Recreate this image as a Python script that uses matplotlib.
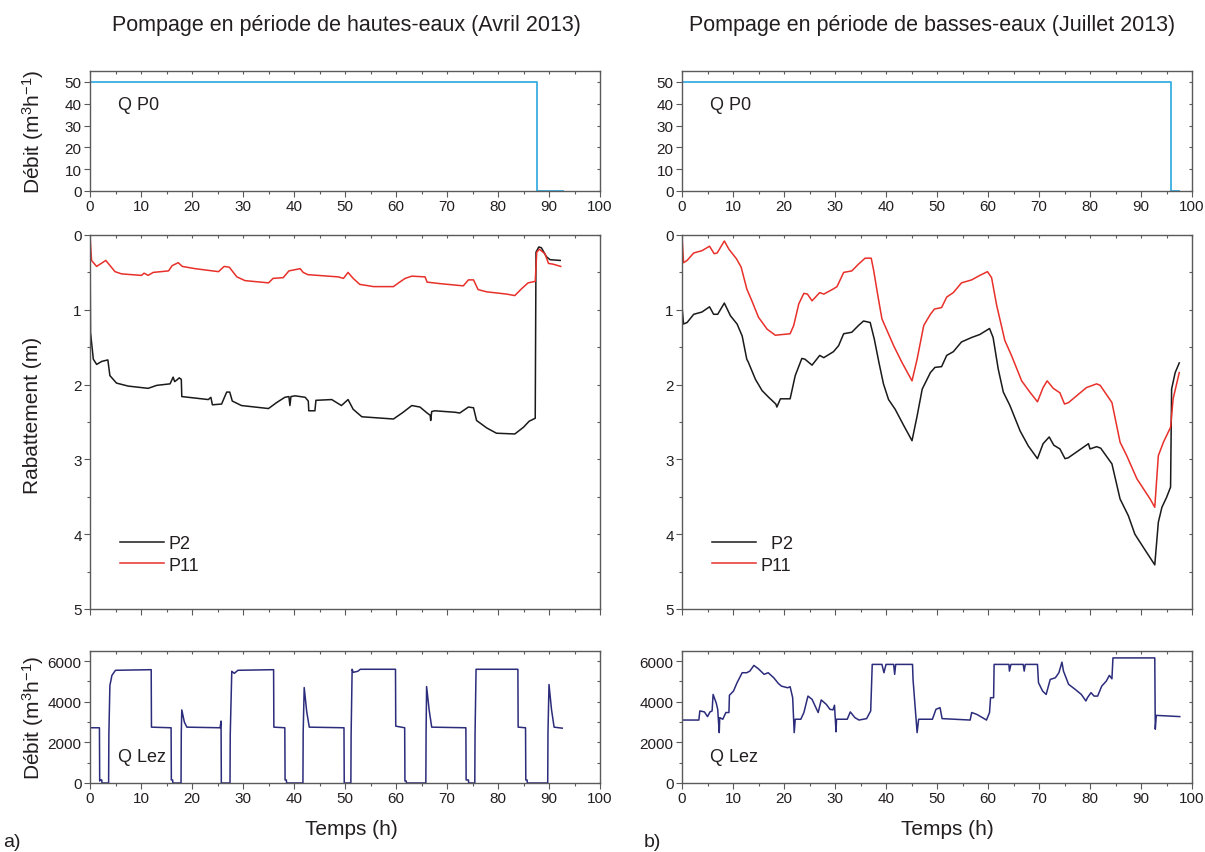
import matplotlib
matplotlib.use("Agg")
import matplotlib.pyplot as plt
from matplotlib.ticker import MultipleLocator
from matplotlib.lines import Line2D

plt.rcParams['font.family'] = ['Liberation Sans', 'DejaVu Sans']
plt.rcParams['mathtext.fontset'] = 'custom'
plt.rcParams['mathtext.rm'] = 'Liberation Sans'
plt.rcParams['mathtext.it'] = 'Liberation Sans'

# ---------------- data ----------------
TITLES = ["Pompage en période de hautes-eaux (Avril 2013)",
          "Pompage en période de basses-eaux (Juillet 2013)"]

P0_LEFT_T = [0, 87.7, 87.7, 92.7]
P0_LEFT_Q = [50, 50, 0, 0]
P0_RIGHT_T = [0, 95.9, 95.9, 97.4]
P0_RIGHT_Q = [50, 50, 0, 0]

P11_LEFT = [(0, 0), (0.3, 0.34), (1.3, 0.42), (3.1, 0.34), (4.9, 0.49), (6.2, 0.52),
            (10.1, 0.54), (10.6, 0.51), (11.4, 0.54), (12.4, 0.50), (15.4, 0.48),
            (16.1, 0.41), (17.3, 0.37), (18.1, 0.42), (20.6, 0.45), (25.2, 0.49),
            (26.3, 0.42), (27.3, 0.43), (28.8, 0.56), (30.4, 0.61), (35.0, 0.64),
            (35.9, 0.58), (37.9, 0.57), (39.0, 0.48), (41.2, 0.45), (41.8, 0.50),
            (42.7, 0.53), (48.7, 0.56), (49.7, 0.58), (50.6, 0.50), (51.6, 0.58),
            (52.9, 0.66), (55.6, 0.69), (59.5, 0.69), (60.5, 0.64), (61.8, 0.58),
            (63.1, 0.55), (65.7, 0.56), (66.1, 0.63), (68.6, 0.65), (73.2, 0.68),
            (74.2, 0.60), (75.2, 0.60), (76.1, 0.73), (77.8, 0.76), (81.7, 0.79),
            (83.3, 0.81), (84.6, 0.72), (85.9, 0.64), (87.3, 0.62), (87.6, 0.23),
            (88.1, 0.19), (89.2, 0.25), (89.9, 0.38), (90.8, 0.39), (92.3, 0.42)]

P2_LEFT = [(0, 0), (0.1, 1.30), (0.65, 1.66), (1.3, 1.73), (2.3, 1.69), (3.5, 1.67),
           (3.9, 1.88), (5.2, 1.98), (7.5, 2.02), (11.4, 2.05), (13.1, 2.01), (15.7, 1.99),
           (16.3, 1.90), (16.6, 1.96), (17.0, 1.94), (17.5, 1.91), (17.9, 1.93), (18.0, 2.16),
           (23.2, 2.20), (23.7, 2.17), (24.0, 2.27), (25.8, 2.26), (26.8, 2.10), (27.4, 2.10),
           (27.9, 2.22), (29.7, 2.28), (35.0, 2.32), (36.6, 2.24), (38.2, 2.17), (39.0, 2.16),
           (39.2, 2.28), (39.4, 2.16), (40.2, 2.15), (42.2, 2.17), (42.8, 2.22), (42.9, 2.35),
           (44.1, 2.35), (44.3, 2.21), (47.4, 2.20), (49.3, 2.28), (50.6, 2.20), (51.6, 2.33),
           (53.3, 2.43), (59.5, 2.46), (61.4, 2.37), (63.1, 2.28), (64.7, 2.30), (66.1, 2.38),
           (66.7, 2.41), (66.8, 2.48), (67.0, 2.36), (67.6, 2.35), (71.6, 2.37), (72.5, 2.38),
           (74.2, 2.30), (75.2, 2.31), (75.8, 2.48), (77.8, 2.58), (79.7, 2.65), (83.3, 2.66),
           (85.0, 2.57), (86.1, 2.49), (87.3, 2.45), (87.45, 0.23), (88.0, 0.16), (88.5, 0.17),
           (89.5, 0.29), (90.2, 0.33), (92.2, 0.34)]

P11_RIGHT = [(0, 0), (0.3, 0.37), (1.0, 0.34), (2.3, 0.24), (3.9, 0.21), (5.4, 0.15),
             (6.3, 0.25), (6.9, 0.24), (8.3, 0.08), (9.2, 0.19), (10.7, 0.32), (11.6, 0.43),
             (12.7, 0.72), (13.7, 0.88), (15.0, 1.10), (16.7, 1.26), (18.3, 1.34), (21.2, 1.32),
             (21.9, 1.21), (22.9, 0.92), (23.9, 0.78), (24.6, 0.79), (25.5, 0.88), (27.0, 0.77),
             (27.8, 0.79), (29.7, 0.72), (30.4, 0.69), (31.7, 0.50), (33.3, 0.48), (34.6, 0.39),
             (35.9, 0.31), (37.1, 0.31), (37.6, 0.48), (38.4, 0.81), (39.2, 1.12), (41.5, 1.48),
             (43.1, 1.70), (45.1, 1.95), (46.1, 1.66), (47.4, 1.21), (48.7, 1.06), (49.5, 0.99),
             (50.9, 0.97), (51.9, 0.83), (53.2, 0.77), (54.8, 0.64), (56.8, 0.60), (58.4, 0.54),
             (59.9, 0.49), (60.7, 0.57), (61.7, 0.94), (63.3, 1.41), (64.6, 1.61), (66.6, 1.95),
             (68.2, 2.10), (69.7, 2.23), (70.8, 2.04), (71.6, 1.95), (72.8, 2.05), (74.1, 2.11),
             (75.0, 2.26), (75.8, 2.24), (79.3, 2.04), (81.3, 1.99), (82.0, 2.01), (84.3, 2.24),
             (85.9, 2.77), (87.2, 2.95), (89.2, 3.26), (91.8, 3.53), (92.7, 3.64), (93.4, 2.95),
             (94.4, 2.77), (95.8, 2.57), (96.3, 2.19), (97.5, 1.84)]

P2_RIGHT = [(0, 0.95), (0.3, 1.19), (1.0, 1.17), (2.3, 1.06), (3.9, 1.03), (5.4, 0.96),
            (6.2, 1.06), (7.0, 1.06), (8.3, 0.91), (9.5, 1.08), (10.8, 1.19), (11.8, 1.35),
            (12.7, 1.66), (13.0, 1.70), (14.4, 1.93), (15.7, 2.08), (17.0, 2.17), (18.4, 2.26),
            (18.6, 2.30), (19.3, 2.19), (21.2, 2.19), (22.2, 1.88), (23.5, 1.65), (24.1, 1.66),
            (25.5, 1.74), (27.0, 1.61), (27.8, 1.64), (29.7, 1.56), (30.7, 1.48), (31.7, 1.32),
            (33.3, 1.30), (34.6, 1.21), (35.6, 1.15), (36.9, 1.17), (37.7, 1.39), (38.6, 1.70),
            (39.5, 1.99), (40.5, 2.20), (41.8, 2.33), (43.5, 2.55), (45.1, 2.75), (46.1, 2.42),
            (47.1, 2.06), (48.7, 1.84), (49.6, 1.77), (50.9, 1.76), (51.9, 1.61), (53.2, 1.56),
            (54.8, 1.43), (56.8, 1.37), (58.4, 1.33), (60.3, 1.25), (61.0, 1.37), (62.0, 1.79),
            (63.0, 2.10), (64.3, 2.28), (66.3, 2.62), (67.9, 2.82), (69.7, 2.99), (70.8, 2.79),
            (72.0, 2.70), (72.9, 2.81), (74.1, 2.86), (75.1, 2.99), (75.7, 2.98), (79.7, 2.79),
            (80.0, 2.86), (81.3, 2.83), (82.1, 2.85), (84.3, 3.06), (85.9, 3.53), (87.5, 3.75),
            (88.8, 4.00), (90.5, 4.18), (92.7, 4.41), (93.4, 3.84), (94.1, 3.64), (95.0, 3.51),
            (95.8, 3.37), (96.0, 2.06), (96.7, 1.84), (97.5, 1.71)]

QLEZ_LEFT = [(0, 2720), (1.85, 2720), (1.9, 100), (2.0, 150), (2.3, 150), (2.35, 0), (3.65, 0),
             (3.7, 2400), (3.9, 4800), (4.3, 5300), (5.0, 5550), (12.0, 5580), (12.05, 2750),
             (15.9, 2720), (15.95, 150), (16.2, 150), (16.25, 0), (17.85, 0), (17.9, 2500),
             (18.0, 3600), (18.5, 3000), (19.0, 2750), (25.5, 2720), (25.7, 3050), (25.75, 0),
             (27.45, 0), (27.5, 2400), (27.8, 5500), (28.3, 5400), (29.0, 5550), (36.0, 5580),
             (36.05, 2750), (38.2, 2720), (38.25, 150), (38.5, 150), (38.55, 0), (41.75, 0),
             (41.8, 2500), (42.0, 4700), (42.5, 3500), (43.0, 2750), (49.8, 2720), (49.85, 0),
             (51.15, 0), (51.2, 2400), (51.4, 5600), (51.6, 5450), (52.5, 5500), (53.0, 5600),
             (59.9, 5600), (59.95, 2800), (61.7, 2720), (61.75, 100), (62.0, 100), (62.05, 0),
             (65.85, 0), (65.9, 2500), (66.0, 4750), (66.5, 3600), (67.0, 2750), (73.7, 2720),
             (73.75, 150), (74.2, 150), (74.25, 0), (75.45, 0), (75.5, 2400), (75.7, 5600),
             (83.9, 5600), (83.95, 2750), (85.4, 2720), (85.45, 150), (85.7, 150), (85.75, 0),
             (89.75, 0), (89.8, 2500), (90.0, 4850), (90.5, 3600), (91.0, 2750), (92.6, 2700)]

QLEZ_RIGHT = [(0, 3100), (3.3, 3100), (3.5, 3550), (4.4, 3500), (5.0, 3270), (5.5, 3500),
              (5.9, 3550), (6.1, 4360), (6.7, 3950), (7.0, 3630), (7.3, 2480), (7.4, 3220),
              (8.0, 3140), (8.6, 3470), (9.2, 3470), (9.3, 4320), (10.1, 4530), (10.8, 4940),
              (11.8, 5430), (12.7, 5430), (13.3, 5510), (14.1, 5790), (15.0, 5620), (16.1, 5350),
              (16.9, 5430), (18.0, 5180), (18.9, 4900), (19.5, 4770), (20.7, 4690), (21.2, 4740),
              (21.7, 4200), (22.0, 2480), (22.2, 3140), (23.3, 3140), (23.9, 3470), (24.7, 4280),
              (25.5, 4120), (26.4, 3630), (26.7, 3470), (27.3, 4090), (28.3, 3870), (29.0, 3630),
              (29.6, 3600), (29.9, 3830), (30.2, 2520), (30.3, 3140), (32.4, 3140), (33.0, 3500),
              (33.9, 3220), (34.7, 3100), (36.2, 3170), (37.0, 3550), (37.3, 5840), (39.2, 5840),
              (39.6, 5430), (40.0, 5840), (41.5, 5840), (41.7, 5350), (41.9, 5840), (45.2, 5840),
              (45.3, 5100), (45.7, 3790), (46.1, 2480), (46.4, 3140), (49.1, 3140), (49.8, 3630),
              (50.6, 3710), (51.0, 3170), (56.5, 3100), (56.8, 3470), (57.8, 3380), (58.9, 3220),
              (59.7, 3100), (60.3, 3470), (60.5, 4200), (61.1, 4200), (61.2, 5840), (64.1, 5840),
              (64.2, 5510), (64.5, 5840), (66.9, 5840), (67.1, 5510), (67.3, 5840), (69.7, 5840),
              (69.9, 4940), (70.7, 4530), (71.4, 4360), (72.2, 5100), (73.2, 5180), (73.9, 5430),
              (74.5, 5950), (74.8, 5510), (75.8, 4860), (77.1, 4610), (78.3, 4360), (79.2, 4040),
              (79.5, 4200), (80.2, 4450), (80.8, 4280), (81.5, 4280), (82.3, 4770), (83.2, 5020),
              (83.8, 5300), (84.3, 5130), (84.5, 6160), (92.7, 6160), (92.8, 2650), (93.0, 3330),
              (97.6, 3270)]

# ---------------- style ----------------
C_P0 = '#3aaee0'
C_P2 = '#1a1a1a'
C_P11 = '#e8302a'
C_LEZ = '#2c2c7c'
C_SPINE = '#5a5a5a'
C_TXT = '#231f20'

W, H = 1205, 853
fig = plt.figure(figsize=(W / 100, H / 100), dpi=100)


def axes_px(x0, y0, x1, y1):
    return fig.add_axes([x0 / W, 1 - y1 / H, (x1 - x0) / W, (y1 - y0) / H])


def style(ax, ymajor, yminor, xlabels=True):
    ax.set_xlim(0, 100)
    ax.xaxis.set_major_locator(MultipleLocator(10))
    ax.xaxis.set_minor_locator(MultipleLocator(5))
    ax.yaxis.set_major_locator(MultipleLocator(ymajor))
    ax.yaxis.set_minor_locator(MultipleLocator(yminor))
    for s in ax.spines.values():
        s.set_color(C_SPINE)
        s.set_linewidth(1.0)
    ax.tick_params(which='both', direction='out', colors=C_SPINE, labelcolor=C_TXT,
                   labelsize=11, width=0.8, pad=2)
    ax.tick_params(which='major', length=4)
    ax.tick_params(which='minor', length=2.5)
    ax.tick_params(axis='x', labelbottom=xlabels)
    sx = ax.secondary_xaxis('top')
    sx.xaxis.set_major_locator(MultipleLocator(5))
    sx.tick_params(direction='in', length=2.5, width=0.8, colors=C_SPINE, labeltop=False)
    sy = ax.secondary_yaxis('right')
    sy.yaxis.set_major_locator(MultipleLocator(yminor))
    sy.tick_params(direction='in', length=2.5, width=0.8, colors=C_SPINE, labelright=False)
    for s in list(sx.spines.values()) + list(sy.spines.values()):
        s.set_visible(False)


def unzip(pairs):
    return [p[0] for p in pairs], [p[1] for p in pairs]


cols = [(90, 600), (682, 1192)]
p0_data = [(P0_LEFT_T, P0_LEFT_Q), (P0_RIGHT_T, P0_RIGHT_Q)]
rab_data = [(P2_LEFT, P11_LEFT), (P2_RIGHT, P11_RIGHT)]
lez_data = [QLEZ_LEFT, QLEZ_RIGHT]
p2_labels = ['P2', '  P2']
title_x = [346, 932]
xlabel_x = [351, 947]

for i, (x0, x1) in enumerate(cols):
    a1 = axes_px(x0, 72, x1, 192)
    a1.plot(p0_data[i][0], p0_data[i][1], color=C_P0, lw=1.3)
    a1.set_ylim(0, 55)
    style(a1, 10, 10)
    a1.text(0.055, 0.72, 'Q P0', transform=a1.transAxes, fontsize=13, color=C_TXT,
            va='center', ha='left')

    a2 = axes_px(x0, 236, x1, 610)
    p2, p11 = rab_data[i]
    t2, d2 = unzip(p2)
    t11, d11 = unzip(p11)
    a2.plot(t2, d2, color=C_P2, lw=1.1)
    a2.plot(t11, d11, color=C_P11, lw=1.1)
    a2.set_ylim(5, 0)
    style(a2, 1, 0.5, xlabels=False)
    handles = [Line2D([], [], color=C_P2, lw=1.1), Line2D([], [], color=C_P11, lw=1.1)]
    a2.legend(handles, [p2_labels[i], 'P11'], loc='lower left', bbox_to_anchor=(0.045, 0.075),
              frameon=False, fontsize=13, handlelength=2.4, handletextpad=0.3,
              labelspacing=0.25, borderaxespad=0, labelcolor=C_TXT)

    a3 = axes_px(x0, 652, x1, 784)
    tl, ql = unzip(lez_data[i])
    a3.plot(tl, ql, color=C_LEZ, lw=1.1)
    a3.set_ylim(0, 6500)
    style(a3, 2000, 1000)
    a3.text(0.055, 0.2, 'Q Lez', transform=a3.transAxes, fontsize=13, color=C_TXT,
            va='center', ha='left')

    fig.text(title_x[i] / W, 1 - 25 / H, TITLES[i], ha='center', va='center',
             fontsize=15.5, color=C_TXT)
    fig.text(xlabel_x[i] / W, 1 - 830 / H, 'Temps (h)', ha='center', va='center',
             fontsize=15, color=C_TXT)

ylab = r'Débit (m$^{3}$h$^{-1}$)'
fig.text(33 / W, 1 - 132 / H, ylab, rotation=90, ha='center', va='center', fontsize=15, color=C_TXT)
fig.text(33 / W, 1 - 718 / H, ylab, rotation=90, ha='center', va='center', fontsize=15, color=C_TXT)
fig.text(33 / W, 1 - 415 / H, 'Rabattement (m)', rotation=90, ha='center', va='center',
         fontsize=15, color=C_TXT)
fig.text(12 / W, 1 - 843 / H, 'a)', ha='center', va='center', fontsize=14, color=C_TXT)
fig.text(652 / W, 1 - 843 / H, 'b)', ha='center', va='center', fontsize=14, color=C_TXT)

fig.savefig('out.png', dpi=100)
